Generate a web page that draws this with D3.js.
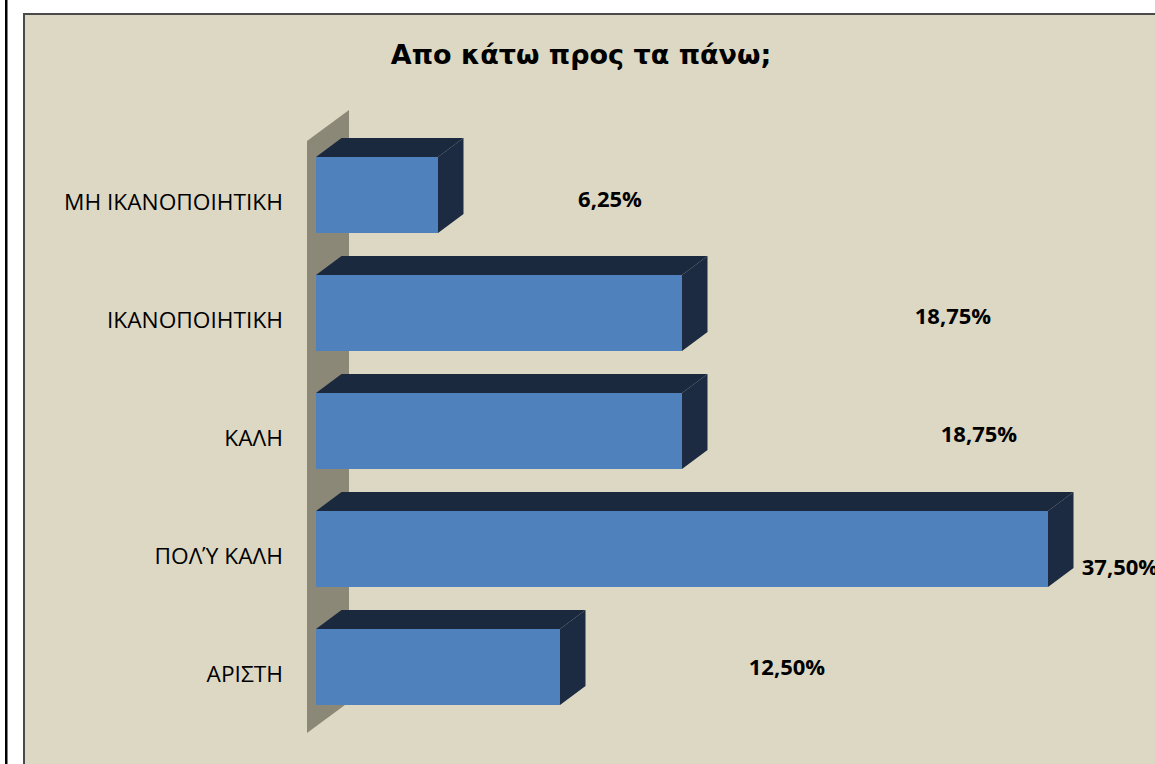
<!DOCTYPE html>
<html>
<head>
<meta charset="utf-8">
<script src="https://cdn.jsdelivr.net/npm/d3@7"></script>
<style>
  html, body { margin: 0; padding: 0; background: #ffffff; }
  svg { display: block; }
</style>
</head>
<body>
<script>
// Ratings, top to bottom, and their share of responses (%)
const categories = ["ΜΗ ΙΚΑΝΟΠΟΙΗΤΙΚΗ", "ΙΚΑΝΟΠΟΙΗΤΙΚΗ", "ΚΑΛΗ", "ΠΟΛΎ ΚΑΛΗ", "ΑΡΙΣΤΗ"];
const values = [6.25, 18.75, 18.75, 37.5, 12.5];
const valueLabels = ["6,25%", "18,75%", "18,75%", "37,50%", "12,50%"];
const title = "Απο κάτω προς τα πάνω;";

const W = 1155, H = 764;
const svg = d3.select("body").append("svg").attr("width", W).attr("height", H);

// Page frame
svg.append("rect").attr("x", 0).attr("y", 0).attr("width", W).attr("height", H).attr("fill", "#ffffff");
svg.append("rect").attr("x", 5).attr("y", 0).attr("width", 2.5).attr("height", H).attr("fill", "#000000");

// Chart area
svg.append("rect")
  .attr("x", 24).attr("y", 14).attr("width", W + 20).attr("height", H + 20)
  .attr("fill", "#ddd8c3").attr("stroke", "#4a4a4a").attr("stroke-width", 2);

svg.append("text")
  .attr("x", 581).attr("y", 54)
  .attr("text-anchor", "middle")
  .attr("dominant-baseline", "central")
  .attr("font-family", "'DejaVu Sans', sans-serif").attr("font-weight", "bold")
  .attr("font-size", 27).attr("fill", "#000")
  .text(title);

// Scales
const x = d3.scaleLinear().domain([0, 40]).range([316, 1096.8]);
const y = d3.scaleBand().domain(categories).range([136, 726])
  .paddingInner(0.356).paddingOuter(0.178);

// 3D depth of the bars and the side wall
const depthX = 25.5, depthY = -19;
const wallX0 = 307, wallX1 = 349, wallDy = -31;
const wallTop = 141, wallBottom = 733;

// Side wall behind the category axis
svg.append("path")
  .attr("d", `M${wallX0},${wallTop} L${wallX1},${wallTop + wallDy} L${wallX1},${wallBottom + wallDy} L${wallX0},${wallBottom} Z`)
  .attr("fill", "#8c8878");

const rows = categories.map((c, i) => ({ cat: c, v: values[i], label: valueLabels[i] }));

const bars = svg.append("g").selectAll("g").data(rows).join("g");

// top face
bars.append("path")
  .attr("d", d => {
    const x0 = x(0), x1 = x(d.v), yt = y(d.cat);
    return `M${x0},${yt} L${x0 + depthX},${yt + depthY} L${x1 + depthX},${yt + depthY} L${x1},${yt} Z`;
  })
  .attr("fill", "#1a293d");

// side face
bars.append("path")
  .attr("d", d => {
    const x1 = x(d.v), yt = y(d.cat), yb = yt + y.bandwidth();
    return `M${x1},${yt} L${x1 + depthX},${yt + depthY} L${x1 + depthX},${yb + depthY} L${x1},${yb} Z`;
  })
  .attr("fill", "#1c2b41");

// front face
bars.append("rect")
  .attr("x", x(0))
  .attr("y", d => y(d.cat))
  .attr("width", d => x(d.v) - x(0))
  .attr("height", y.bandwidth())
  .attr("fill", "#4f81bd");

// Category labels
svg.append("g").selectAll("text").data(rows).join("text")
  .attr("x", 283)
  .attr("y", d => y(d.cat) + y.bandwidth() / 2 + 6)
  .attr("text-anchor", "end")
  .attr("dominant-baseline", "central")
  .attr("font-family", "'Open Sans', sans-serif")
  .attr("font-size", 22.7).attr("fill", "#000")
  .text(d => d.cat);

// Value labels, placed relative to the bar end
const labelShift = [[172, 3], [271, 2], [297, 2], [72, 17], [227, -1]];
svg.append("g").selectAll("text").data(rows).join("text")
  .attr("x", (d, i) => x(d.v) + labelShift[i][0])
  .attr("y", (d, i) => y(d.cat) + y.bandwidth() / 2 + labelShift[i][1])
  .attr("text-anchor", "middle")
  .attr("dominant-baseline", "central")
  .attr("font-family", "'Open Sans', sans-serif").attr("font-weight", "bold")
  .attr("font-size", 22).attr("fill", "#000")
  .text(d => d.label);
</script>
</body>
</html>
